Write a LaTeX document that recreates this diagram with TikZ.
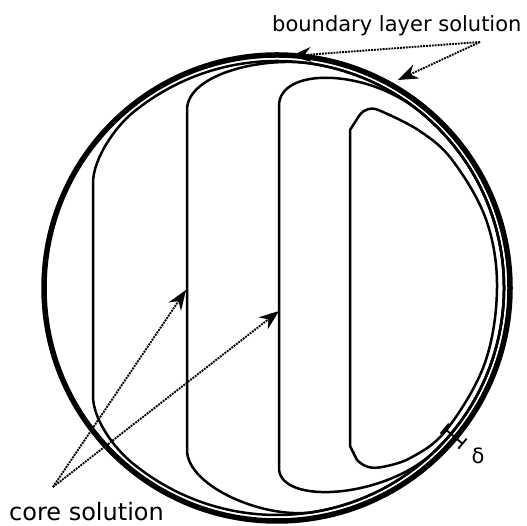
\documentclass[tikz,border=0pt]{standalone}
\usepackage{fontspec}
\setmainfont{DejaVu Sans}
\usetikzlibrary{arrows.meta}
\tikzset{
  wall/.style={line width=5.5pt},
  level/.style={line width=2.5pt,line join=round},
  pointer/.style={line width=1.9pt,densely dotted,-{Stealth[length=20pt,width=15pt]}},
  gauge/.style={line width=1.8pt,{Bar[width=13pt]}-{Bar[width=13pt]}},
  lbl/.style={inner sep=0pt,anchor=base west}
}

\begin{document}
\begin{tikzpicture}[x=1pt,y=1pt]
  \useasboundingbox (0,0) rectangle (527,526);
  % domain and level curves, relative to the centre
  \begin{scope}[shift={(277,238)}]
    \draw[wall] (0,0) circle (233);
    \draw[level] (-184,-108) -- (-184,105) .. controls (-184,130) and (-160,164.3) .. (128:227)
      arc[start angle=128,end angle=-128,radius=227] .. controls (-160,-164.3) and (-184,-133) .. cycle;
    \draw[level] (-90,-162) -- (-90,178) .. controls (-90,215) and (-9.6,233) .. (80:227)
      arc[start angle=80,end angle=-80,radius=227] .. controls (-9.6,-233) and (-90,-199) .. cycle;
    \draw[level] (2,-180) -- (2,182) .. controls (2,222) and (93,219.7) .. (50:227)
      arc[start angle=50,end angle=-45,radius=227] .. controls (111.7,-210.7) and (2,-218) .. cycle;
    \draw[level] (73,-158) -- (73,158) -- (82,172) to[out=57,in=153] (60:205)
      -- plot[smooth,tension=.6] coordinates {(60:205) (48:212) (36:217) (18:220) (0:220) (-20:221) (-40:221) (-52:216) (-60:207)}
      to[out=190,in=-45] (80,-172) -- cycle;
    \coordinate (din) at (-40:218); \coordinate (dout) at (-40:243);
  \end{scope}
  \draw[gauge] (din) -- (dout);
  \node[inner sep=0pt,font=\fontsize{21}{25}\selectfont] (dlt) at (478,70) {δ};
  % labels and pointers
  \node[lbl,font=\fontsize{21}{25}\selectfont] (bnd) at (272,494) {boundary layer solution};
  \node[lbl,font=\fontsize{24}{28}\selectfont] (core) at (9,5) {core solution};
  \coordinate (bfoot) at (480,484); \coordinate (ccfoot) at (53,39);
  \coordinate (btip1) at (291,470); \coordinate (btip2) at (398,446);
  \coordinate (ctip1) at (186,236); \coordinate (ctip2) at (279,215);
  \draw[pointer] (bfoot) -- (btip1);
  \draw[pointer] (bfoot) -- (btip2);
  \draw[pointer] (ccfoot) -- (ctip1);
  \draw[pointer] (ccfoot) -- (ctip2);
\end{tikzpicture}
\end{document}
